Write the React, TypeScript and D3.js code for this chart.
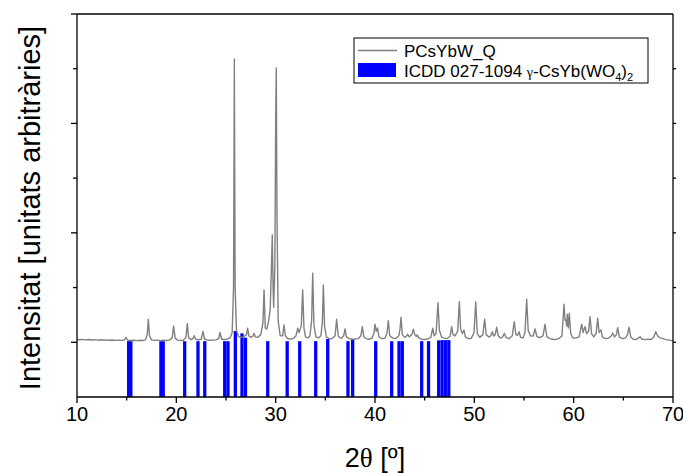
import React from "react";
import * as d3 from "d3";

const W = 683;
const H = 473;
const M = { left: 77, right: 673, top: 14, bottom: 397 };

const xMajorTicks = [10, 20, 30, 40, 50, 60, 70];
const xMinorTicks = [15, 25, 35, 45, 55, 65];
const yMajorTicks = [0, 1000, 2000];
const yMinorTicks = [500, 1500, 2500];

const seriesName = "PCsYbW_Q";

// XRD trace: [2θ, intensity]
const trace: [number, number][] = [
  [10.0, 26], [10.3, 23], [10.6, 27], [10.9, 22], [11.2, 25], [11.5, 21], [11.8, 24], [12.1, 20],
  [12.4, 23], [12.7, 19], [13.0, 22], [13.3, 18], [13.6, 21], [13.9, 17], [14.2, 20], [14.5, 17],
  [14.78, 22], [14.93, 46], [15.1, 20], [15.4, 16], [15.7, 19], [16.0, 15], [16.3, 18], [16.6, 16],
  [16.9, 22], [17.07, 70], [17.18, 210], [17.3, 60], [17.5, 22], [17.8, 17], [18.1, 19], [18.4, 15],
  [18.7, 18], [19.0, 16], [19.3, 20], [19.58, 40], [19.73, 149], [19.88, 40], [20.1, 20], [20.4, 17],
  [20.7, 19], [20.97, 45], [21.1, 170], [21.24, 40], [21.5, 25], [21.68, 35], [21.8, 60], [21.95, 28],
  [22.2, 22], [22.52, 30], [22.68, 100], [22.84, 30], [23.1, 20], [23.4, 18], [23.7, 20], [24.0, 22],
  [24.27, 35], [24.4, 91], [24.55, 30], [24.8, 25], [25.1, 28], [25.4, 40], [25.62, 90], [25.76, 500],
  [25.84, 2590], [25.92, 500], [26.05, 110], [26.25, 55], [26.5, 45], [26.8, 50], [27.06, 70], [27.18, 128],
  [27.3, 60], [27.5, 45], [27.7, 55], [27.82, 82], [27.95, 50], [28.2, 45], [28.5, 70], [28.72, 180],
  [28.83, 478], [28.95, 130], [29.1, 120], [29.3, 200], [29.45, 300], [29.58, 700], [29.66, 981], [29.74, 500],
  [29.8, 320], [29.92, 700], [30.0, 2000], [30.06, 2507], [30.13, 1200], [30.25, 200], [30.45, 60], [30.7, 60],
  [30.84, 158], [30.98, 60], [31.2, 35], [31.5, 30], [31.8, 36], [32.05, 60], [32.22, 128], [32.35, 90],
  [32.58, 150], [32.72, 478], [32.85, 130], [33.0, 50], [33.25, 40], [33.45, 60], [33.62, 200], [33.73, 631],
  [33.85, 160], [34.05, 50], [34.3, 40], [34.55, 60], [34.7, 180], [34.8, 524], [34.92, 150], [35.1, 50],
  [35.4, 32], [35.7, 36], [35.98, 60], [36.14, 210], [36.3, 55], [36.6, 35], [36.85, 60], [36.98, 122],
  [37.12, 50], [37.4, 33], [37.7, 28], [38.0, 30], [38.3, 33], [38.58, 60], [38.72, 143], [38.88, 50],
  [39.1, 33], [39.4, 28], [39.7, 38], [39.88, 80], [40.0, 165], [40.12, 100], [40.25, 131], [40.4, 50],
  [40.7, 32], [41.0, 38], [41.2, 80], [41.34, 197], [41.48, 60], [41.8, 38], [42.1, 36], [42.4, 60],
  [42.52, 120], [42.62, 229], [42.75, 70], [43.0, 45], [43.15, 55], [43.29, 73], [43.45, 50], [43.7, 70],
  [43.86, 119], [44.0, 70], [44.15, 55], [44.26, 67], [44.4, 40], [44.7, 28], [45.0, 26], [45.3, 30],
  [45.62, 45], [45.81, 128], [45.95, 60], [46.15, 80], [46.34, 362], [46.48, 110], [46.7, 48], [46.95, 38],
  [47.25, 33], [47.55, 55], [47.72, 143], [47.85, 70], [48.05, 58], [48.32, 100], [48.49, 371], [48.62, 120],
  [48.8, 80], [48.96, 112], [49.1, 50], [49.4, 32], [49.7, 38], [49.97, 90], [50.14, 368], [50.3, 80],
  [50.55, 45], [50.86, 70], [51.04, 210], [51.2, 70], [51.45, 48], [51.66, 60], [51.81, 97], [51.95, 58],
  [52.1, 70], [52.25, 137], [52.4, 60], [52.65, 38], [52.86, 50], [53.02, 82], [53.2, 42], [53.5, 33],
  [53.82, 60], [54.02, 188], [54.18, 70], [54.35, 62], [54.5, 97], [54.65, 48], [54.9, 38], [55.1, 90],
  [55.27, 393], [55.42, 110], [55.65, 58], [55.94, 60], [56.11, 122], [56.3, 52], [56.6, 42], [56.92, 60],
  [57.12, 165], [57.3, 52], [57.6, 33], [57.9, 28], [58.2, 26], [58.5, 33], [58.82, 60], [59.03, 347],
  [59.13, 200], [59.23, 204], [59.3, 150], [59.36, 256], [59.46, 131], [59.56, 265], [59.7, 80], [59.9, 42],
  [60.2, 38], [60.55, 50], [60.81, 165], [60.95, 90], [61.14, 143], [61.3, 80], [61.5, 100], [61.65, 234],
  [61.8, 80], [62.02, 50], [62.26, 80], [62.42, 219], [62.56, 90], [62.75, 112], [62.9, 48], [63.2, 33],
  [63.5, 38], [63.76, 55], [63.93, 82], [64.1, 48], [64.3, 70], [64.43, 133], [64.6, 48], [64.9, 33],
  [65.2, 38], [65.42, 70], [65.57, 137], [65.75, 48], [66.0, 28], [66.3, 26], [66.55, 40], [66.68, 51],
  [66.85, 30], [67.2, 24], [67.5, 29], [67.8, 26], [68.08, 50], [68.26, 97], [68.45, 60], [68.7, 40],
  [69.0, 33], [69.3, 24], [69.6, 20], [69.87, 15], [70.0, 16],
];

// ICDD 027-1094 reference lines: position (2θ) and top of bar
const icddPositions = [
  15.2, 15.42, 18.45, 18.68, 20.84, 22.18, 22.86, 24.87, 25.2, 25.94, 26.61, 26.96, 29.2, 31.16, 32.42,
  34.03, 35.24, 37.28, 37.75, 40.07, 41.68, 42.42, 42.75, 44.7, 45.39, 46.41, 46.75, 47.08, 47.43,
];
const icddTops = [
  10, 10, 10, 10, 10, 10, 10, 10, 10, 103, 82, 42, 10, 10, 10,
  10, 30, 10, 30, 10, 10, 10, 10, 10, 10, 18, 20, 20, 20,
];

const FONT = "'Liberation Sans', Arial, sans-serif";

export default function App() {
  const x = d3.scaleLinear().domain([10, 70]).range([M.left, M.right]);
  const y = d3.scaleLinear().domain([-500, 3000]).range([M.bottom, M.top]);
  const line = d3
    .line<[number, number]>()
    .x((d) => x(d[0]))
    .y((d) => y(d[1]));
  const barW = x(10.33) - x(10);
  const axisColor = "#000";

  return (
    <svg
      width={W}
      height={H}
      style={{ position: "absolute", left: 0, top: 0, background: "#fff" }}
      fontFamily={FONT}
    >
      <rect x={0} y={0} width={W} height={H} fill="#fff" />
      {/* ICDD bars */}
      {icddPositions.map((p, i) => (
        <rect
          key={i}
          x={x(p) - barW / 2}
          y={y(icddTops[i])}
          width={barW}
          height={y(-500) - y(icddTops[i])}
          fill="#0000ff"
        />
      ))}
      {/* trace */}
      <path d={line(trace) || ""} fill="none" stroke="#808080" strokeWidth={1.4} strokeLinejoin="round" />

      {/* frame */}
      <line x1={M.left} x2={M.right} y1={M.top} y2={M.top} stroke={axisColor} strokeWidth={1.3} />
      <line x1={M.right} x2={M.right} y1={M.top} y2={M.bottom} stroke={axisColor} strokeWidth={1.3} />
      <line x1={M.left} x2={M.right} y1={M.bottom} y2={M.bottom} stroke={axisColor} strokeWidth={1.3} />
      <line x1={M.left} x2={M.left} y1={M.top} y2={M.bottom} stroke={axisColor} strokeWidth={1.3} />

      {/* x ticks */}
      {xMajorTicks.map((t) => (
        <g key={"xm" + t}>
          <line x1={x(t)} x2={x(t)} y1={M.bottom} y2={M.bottom + 6} stroke={axisColor} strokeWidth={1.3} />
          <text x={x(t)} y={M.bottom + 24} textAnchor="middle" fontSize={20} fill="#000">
            {t}
          </text>
        </g>
      ))}
      {xMinorTicks.map((t) => (
        <line key={"xn" + t} x1={x(t)} x2={x(t)} y1={M.bottom} y2={M.bottom + 3.5} stroke={axisColor} strokeWidth={1.3} />
      ))}
      {/* y ticks */}
      {[3000, ...yMajorTicks].map((t) => (
        <line key={"ym" + t} x1={M.left - 6} x2={M.left} y1={y(t)} y2={y(t)} stroke={axisColor} strokeWidth={1.3} />
      ))}
      {yMinorTicks.map((t) => (
        <line key={"yn" + t} x1={M.left - 4} x2={M.left} y1={y(t)} y2={y(t)} stroke={axisColor} strokeWidth={1.3} />
      ))}
      {[...yMajorTicks, ...yMinorTicks].map((t) => (
        <line key={"yr" + t} x1={M.right} x2={M.right + 3} y1={y(t)} y2={y(t)} stroke={axisColor} strokeWidth={1.3} />
      ))}

      {/* axis titles */}
      <text x={375} y={467} textAnchor="middle" fontSize={27} fill="#000">
        2<tspan fontFamily="'Liberation Serif', serif">θ</tspan> [º]
      </text>
      <text
        transform={`translate(40, 208) rotate(-90)`}
        textAnchor="middle"
        fontSize={29}
        fill="#000"
      >
        Intensitat [unitats arbitràries]
      </text>

      {/* legend */}
      <rect x={354} y={38} width={294} height={45} fill="#fff" stroke="#000" strokeWidth={1} />
      <line x1={358} x2={397} y1={50.5} y2={50.5} stroke="#808080" strokeWidth={1.4} />
      <text x={404} y={57} fontSize={17} fill="#000">
        {seriesName}
      </text>
      <rect x={358} y={63} width={38} height={14} fill="#0000ff" />
      <text x={404} y={77} fontSize={17} fill="#000">
        ICDD 027-1094 <tspan fontFamily="'Liberation Serif', serif" fontSize={14}>γ</tspan>-CsYb(WO
        <tspan fontSize={11} dy={4}>4</tspan>
        <tspan dy={-4}>)</tspan>
        <tspan fontSize={11} dy={4}>2</tspan>
      </text>
    </svg>
  );
}
